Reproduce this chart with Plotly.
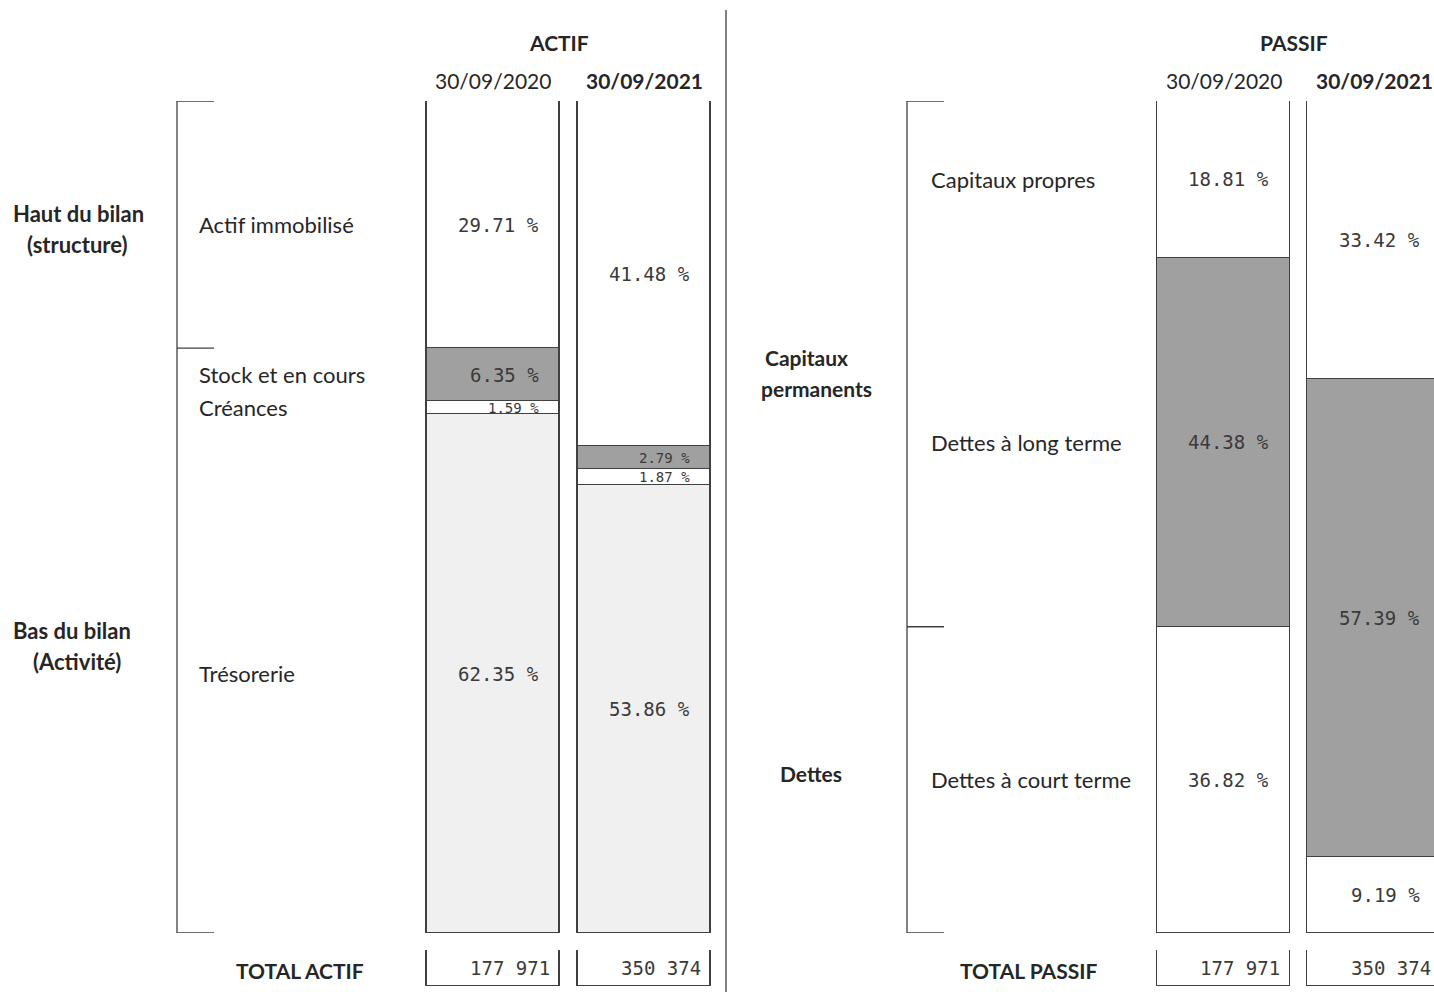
import plotly.graph_objects as go

# ---- data -------------------------------------------------------------
dates = ["30/09/2020", "30/09/2021"]

actif_labels = ["Actif immobilisé", "Stock et en cours", "Créances", "Trésorerie"]
actif_2020 = [29.71, 6.35, 1.59, 62.35]
actif_2021 = [41.48, 2.79, 1.87, 53.86]
actif_colors = ["#ffffff", "#a0a0a0", "#ffffff", "#f0f0f0"]

passif_labels = ["Capitaux propres", "Dettes à long terme", "Dettes à court terme"]
passif_2020 = [18.81, 44.38, 36.82]
passif_2021 = [33.42, 57.39, 9.19]
passif_colors = ["#ffffff", "#a0a0a0", "#ffffff"]

total_actif = [177971, 350374]
total_passif = [177971, 350374]

# ---- page geometry helpers ---------------------------------------------
W, H = 1434, 992


def px(x):
    return x / W


def py(y):
    return 1 - y / H


SANS = "Lato, Calibri, sans-serif"
MONO = "DejaVu Sans Mono, Courier New, monospace"
TXT = "#262626"
NUM = "#3a3a3a"
EDGE = "#404040"


def fmt_pct(v):
    return f"{v:.2f} %"


def fmt_total(v):
    return f"{v:,}".replace(",", " ")


fig = go.Figure()

# stacked balance-sheet columns
for name, v20, v21, col in zip(actif_labels, actif_2020, actif_2021, actif_colors):
    fig.add_trace(go.Bar(x=[0, 1], y=[v20, v21], name=name, width=0.887,
                         marker=dict(color=col, line=dict(color=EDGE, width=1.5)),
                         xaxis="x", yaxis="y", hoverinfo="skip"))
for name, v20, v21, col in zip(passif_labels, passif_2020, passif_2021, passif_colors):
    fig.add_trace(go.Bar(x=[0, 1], y=[v20, v21], name=name, width=0.884,
                         marker=dict(color=col, line=dict(color=EDGE, width=1.5)),
                         xaxis="x2", yaxis="y2", hoverinfo="skip"))

# total boxes
fig.add_trace(go.Bar(x=[0, 1], y=[1, 1], width=0.887,
                     marker=dict(color="#ffffff", line=dict(color=EDGE, width=1.2)),
                     xaxis="x", yaxis="y3", hoverinfo="skip"))
fig.add_trace(go.Bar(x=[0, 1], y=[1, 1], width=0.884,
                     marker=dict(color="#ffffff", line=dict(color=EDGE, width=1.2)),
                     xaxis="x2", yaxis="y4", hoverinfo="skip"))

annotations = []


def seg_labels(series, xref, yref):
    for i, vals in enumerate(series):
        acc = 0.0
        for v in vals:
            size = 14 if v < 3 else 19  # thin slices get a smaller label
            annotations.append(dict(x=i + 0.318, y=acc + v / 2, xref=xref, yref=yref,
                                    text=fmt_pct(v), showarrow=False, xanchor="right",
                                    yanchor="middle",
                                    font=dict(family=MONO, size=size, color=NUM)))
            acc += v


seg_labels([actif_2020, actif_2021], "x", "y")
seg_labels([passif_2020, passif_2021], "x2", "y2")

for i, t in enumerate(total_actif):
    annotations.append(dict(x=i + 0.39, y=0.5, xref="x", yref="y3", text=fmt_total(t),
                            showarrow=False, xanchor="right", yanchor="middle",
                            font=dict(family=MONO, size=19, color=NUM)))
for i, t in enumerate(total_passif):
    annotations.append(dict(x=i + 0.39, y=0.5, xref="x2", yref="y4", text=fmt_total(t),
                            showarrow=False, xanchor="right", yanchor="middle",
                            font=dict(family=MONO, size=19, color=NUM)))

# row labels, aligned on the 2020 column segments
acc = 0.0
for name, v in zip(actif_labels, actif_2020):
    annotations.append(dict(x=px(197), y=acc + v / 2, xref="paper", yref="y", text=name,
                            showarrow=False, xanchor="left", yanchor="middle",
                            font=dict(family=SANS, size=22, color=TXT)))
    acc += v
acc = 0.0
for name, v in zip(passif_labels, passif_2020):
    annotations.append(dict(x=px(929), y=acc + v / 2, xref="paper", yref="y2", text=name,
                            showarrow=False, xanchor="left", yanchor="middle",
                            font=dict(family=SANS, size=22, color=TXT)))
    acc += v

# column headers
for i, d in enumerate(dates):
    txt = d if i == 0 else f"<b>{d}</b>"
    annotations.append(dict(x=i, y=py(80), xref="x", yref="paper", text=txt, showarrow=False,
                            xanchor="center", yanchor="middle",
                            font=dict(family=SANS, size=21, color=TXT)))
    annotations.append(dict(x=i, y=py(80), xref="x2", yref="paper", text=txt, showarrow=False,
                            xanchor="center", yanchor="middle",
                            font=dict(family=SANS, size=21, color=TXT)))


def bold(text, x, y, size=22):
    annotations.append(dict(x=px(x), y=py(y), xref="paper", yref="paper",
                            text=f"<b>{text}</b>", showarrow=False,
                            xanchor="center", yanchor="middle",
                            font=dict(family=SANS, size=size, color=TXT)))


bold("ACTIF", 559, 43, 21)
bold("PASSIF", 1294, 43, 21)
bold("Haut du bilan", 78, 213)
bold("(structure)", 77, 244)
bold("Bas du bilan", 72, 630)
bold("(Activité)", 77, 661)
bold("Capitaux", 806, 357, 21)
bold("permanents", 817, 388, 21)
bold("Dettes", 811, 773, 21)
bold("TOTAL ACTIF", 300, 970, 21)
bold("TOTAL PASSIF", 1028, 970, 21)

# brackets and divider
shapes = []
line = dict(color=EDGE, width=1.3)
shapes.append(dict(type="line", xref="paper", yref="y", x0=px(177), x1=px(177), y0=0, y1=100, line=line))
for yb in [0, actif_2020[0], 100]:
    shapes.append(dict(type="line", xref="paper", yref="y", x0=px(177), x1=px(214), y0=yb, y1=yb, line=line))
shapes.append(dict(type="line", xref="paper", yref="y2", x0=px(907), x1=px(907), y0=0, y1=100, line=line))
for yb in [0, passif_2020[0] + passif_2020[1], 100]:
    shapes.append(dict(type="line", xref="paper", yref="y2", x0=px(907), x1=px(944), y0=yb, y1=yb, line=line))
shapes.append(dict(type="line", xref="paper", yref="paper", x0=px(726), x1=px(726), y0=py(10), y1=0,
                   line=dict(color=EDGE, width=1.3)))

hidden = dict(visible=False, showgrid=False, zeroline=False, fixedrange=True)
bars_dom = [py(933), py(101)]
tot_dom = [py(986), py(950)]

fig.update_layout(
    width=W, height=H, margin=dict(l=0, r=0, t=0, b=0),
    paper_bgcolor="#ffffff", plot_bgcolor="rgba(0,0,0,0)",
    barmode="stack", bargap=0, showlegend=False,
    xaxis=dict(domain=[px(417.5), px(719.5)], range=[-0.5, 1.5], **hidden),
    xaxis2=dict(domain=[px(1148.25), 1.0], range=[-0.5, 1.3987], **hidden),
    yaxis=dict(domain=bars_dom, range=[100, 0], anchor="x", **hidden),
    yaxis2=dict(domain=bars_dom, range=[100, 0], anchor="x2", **hidden),
    yaxis3=dict(domain=tot_dom, range=[0, 1], anchor="x", **hidden),
    yaxis4=dict(domain=tot_dom, range=[0, 1], anchor="x2", **hidden),
    annotations=annotations, shapes=shapes,
)

fig.write_html("out.html")
